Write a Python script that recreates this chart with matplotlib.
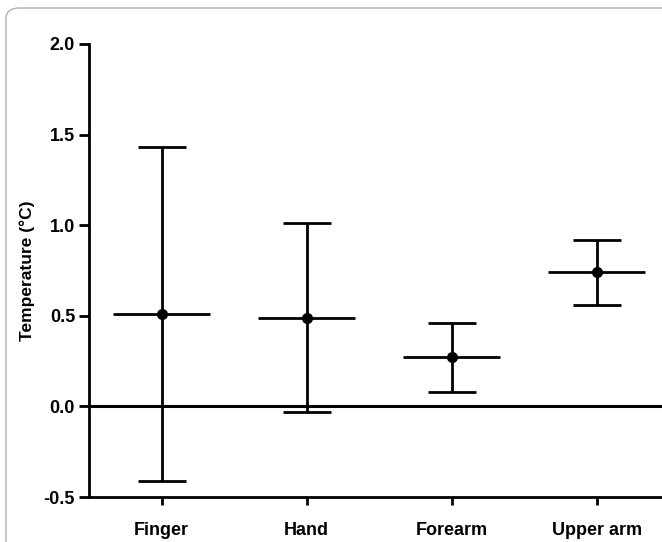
import matplotlib.pyplot as plt
from matplotlib.patches import FancyBboxPatch

plt.rcParams['font.family'] = ['Liberation Sans', 'DejaVu Sans']
plt.rcParams['font.weight'] = 'bold'

sites = ['Finger', 'Hand', 'Forearm', 'Upper arm']
means = [0.51, 0.49, 0.27, 0.74]
upper = [1.43, 1.01, 0.46, 0.92]
lower = [-0.41, -0.03, 0.08, 0.56]

xpos = list(range(1, len(sites) + 1))
err_lo = [m - l for m, l in zip(means, lower)]
err_hi = [u - m for m, u in zip(means, upper)]

fig = plt.figure(figsize=(6.62, 5.42), dpi=100)

# light rounded frame around the figure
frame = FancyBboxPatch((6 / 662, -0.1), 1.2, 1.1 - 8 / 542,
                       boxstyle="round,pad=0,rounding_size=0.02",
                       transform=fig.transFigure, fill=False,
                       edgecolor='#b0b0b0', linewidth=1.0)
fig.patches.append(frame)

ax = fig.add_axes([89 / 662, 45 / 542, (662 - 89) / 662, (497 - 44) / 542])

ax.axhline(0, color='black', linewidth=2.2, zorder=1)
ax.errorbar(xpos, means, yerr=[err_lo, err_hi], fmt='o', color='black',
            markersize=7, elinewidth=2, capsize=17, capthick=2, zorder=3)
ax.hlines(means, [x - 0.335 for x in xpos], [x + 0.335 for x in xpos],
          color='black', linewidth=2, zorder=2)

ax.set_xlim(0.5, 4.45)
ax.set_ylim(-0.5, 2.0)
ax.set_yticks([-0.5, 0.0, 0.5, 1.0, 1.5, 2.0])
ax.set_yticklabels(['-0.5', '0.0', '0.5', '1.0', '1.5', '2.0'])
ax.set_xticks(xpos)
ax.set_xticklabels(sites)

for s in ['top', 'right']:
    ax.spines[s].set_visible(False)
for s in ['left', 'bottom']:
    ax.spines[s].set_linewidth(2)

ax.tick_params(axis='y', length=7, width=2, labelsize=13, pad=3)
ax.tick_params(axis='x', length=6, width=2, labelsize=13, pad=12)
for lab in ax.get_xticklabels() + ax.get_yticklabels():
    lab.set_fontweight('bold')

ax.set_ylabel('Temperature (°C)', fontsize=12.5, fontweight='bold')
ax.yaxis.set_label_coords(-0.094, 0.5)

fig.savefig('out.png', dpi=100)
